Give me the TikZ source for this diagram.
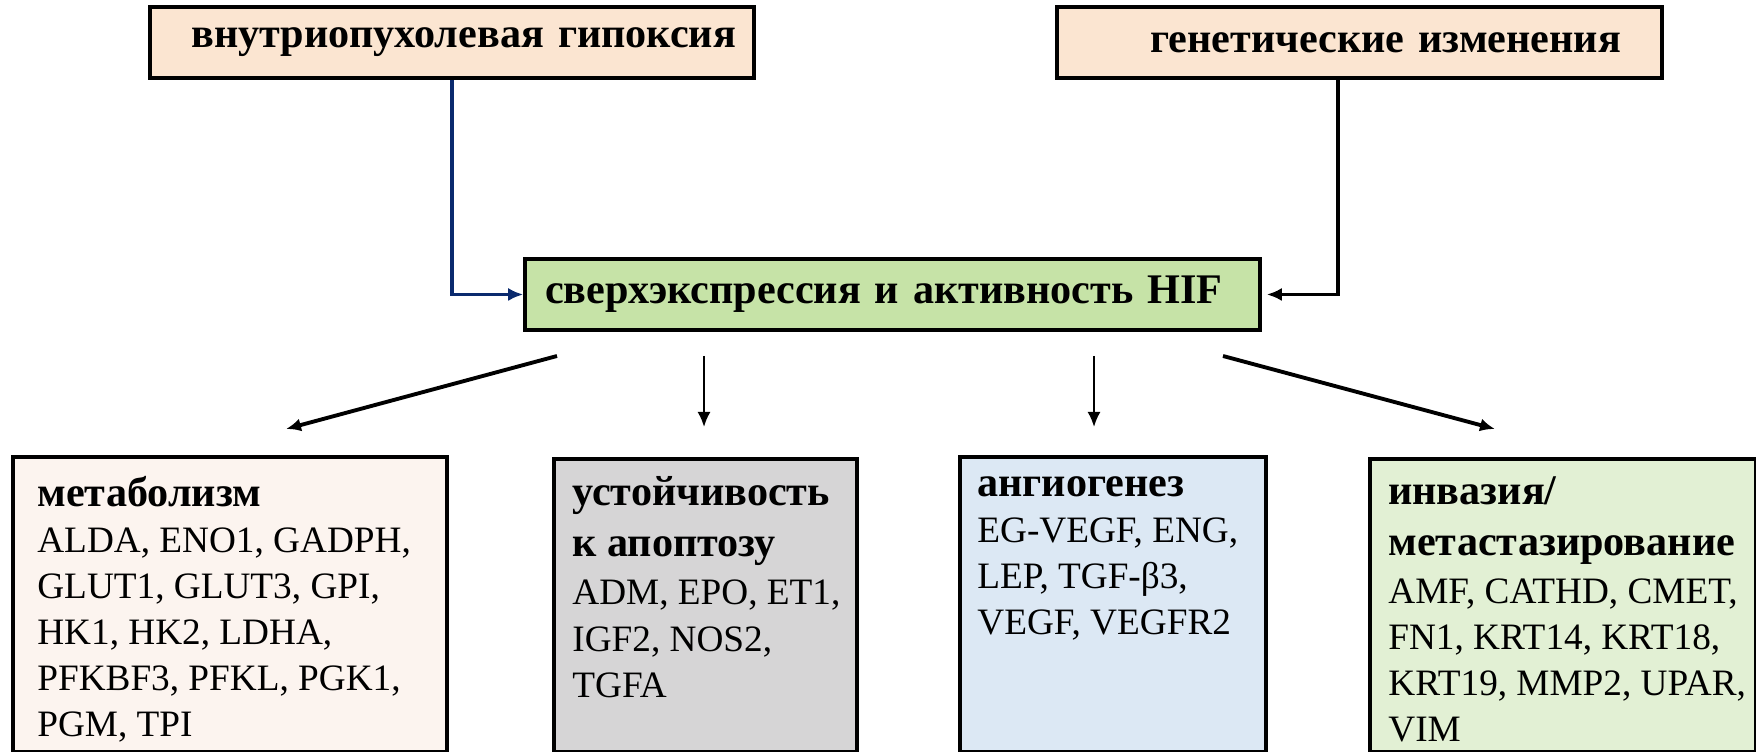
\documentclass[tikz,border=0pt]{standalone}
\usepackage{fontspec}
\setmainfont{Liberation Serif}
\usetikzlibrary{arrows.meta}

\definecolor{peach}{HTML}{FBE5D1}
\definecolor{hifgreen}{HTML}{C6E3A7}
\definecolor{metabpink}{HTML}{FCF4EF}
\definecolor{apopgray}{HTML}{D6D5D6}
\definecolor{angioblue}{HTML}{DCE8F4}
\definecolor{invgreen}{HTML}{E2F0D4}
\definecolor{navy}{HTML}{0A2A6E}

\newcommand\cattitle[1]{{\fontsize{24}{26.2}\selectfont\bfseries #1}}

\tikzstyle{headbox}=[draw, line width=2pt, minimum height=1.42cm,
                     font=\fontsize{24}{28}\selectfont\bfseries]
\tikzstyle{catbox}=[draw, line width=2pt, anchor=north west]
\tikzstyle{cattext}=[anchor=north west, inner sep=0pt, align=left,
                     font=\fontsize{21.2}{26.2}\selectfont]
\tikzstyle{link}=[-{Latex[length=3mm,width=2.6mm]}, line width=1.8pt]

\begin{document}
\begin{tikzpicture}
  \useasboundingbox (0,0) rectangle (35.12,15.04);

  \node[headbox, fill=peach, text width=11.36cm, inner xsep=0.36cm, align=right]
    (hypox) at (9.04,14.19) {внутриопухолевая гипоксия};
  \node[headbox, fill=peach, text width=10.46cm, inner xsep=0.82cm, align=right]
    (genet) at (27.19,14.19) {генетические изменения};
  \node[headbox, fill=hifgreen, text width=13.9cm, inner xsep=0.4cm, align=left]
    (hif) at (17.85,9.15) {сверхэкспрессия и активность HIF};

  \draw[link, navy] (hypox.south -| 9.04,0) |- (hif.west);
  \coordinate (genin) at ([xshift=0.1cm]hif.east);
  \draw[link] (genet.south -| 26.76,0) |- (genin);

  \node[catbox, fill=metabpink, minimum width=8.68cm, minimum height=5.9cm]
    (metab) at (0.22,5.94) {};
  \node[catbox, fill=apopgray, minimum width=6.06cm, minimum height=5.86cm]
    (apop) at (11.04,5.9) {};
  \node[catbox, fill=angioblue, minimum width=6.12cm, minimum height=5.9cm]
    (angio) at (19.16,5.94) {};
  \node[catbox, fill=invgreen, minimum width=7.72cm, minimum height=5.86cm]
    (inv) at (27.36,5.9) {};

  \node[cattext] (metabtxt) at ([xshift=0.52cm,yshift=-0.42cm]metab.north west)
    {\cattitle{метаболизм}\\ALDA, ENO1, GADPH,\\GLUT1, GLUT3, GPI,\\HK1, HK2, LDHA,\\PFKBF3, PFKL, PGK1,\\PGM, TPI};
  \node[cattext] (apoptxt) at ([xshift=0.4cm,yshift=-0.38cm]apop.north west)
    {\cattitle{устойчивость}\\[0.1cm]\cattitle{к апоптозу}\\[0.05cm]ADM, EPO, ET1,\\IGF2, NOS2,\\TGFA};
  \node[cattext] (angiotxt) at ([xshift=0.38cm,yshift=-0.42cm]angio.north west)
    {\cattitle{ангиогенез}\\EG-VEGF, ENG,\\LEP, TGF-β3,\\VEGF, VEGFR2};
  \node[cattext] (invtxt) at ([xshift=0.4cm,yshift=-0.38cm]inv.north west)
    {\cattitle{инвазия/}\\[0.1cm]\cattitle{метастазирование}\\[0.05cm]AMF, CATHD, CMET,\\FN1, KRT14, KRT18,\\KRT19, MMP2, UPAR,\\VIM};

  \coordinate (out1) at (11.14,7.92);
  \coordinate (out2) at (14.08,7.92);
  \coordinate (out3) at (21.88,7.92);
  \coordinate (out4) at (24.46,7.92);
  \coordinate (in1) at (5.72,6.46);
  \coordinate (in2) at (14.08,6.5);
  \coordinate (in3) at (21.88,6.5);
  \coordinate (in4) at (29.9,6.46);

  \draw[link, line width=2.2pt] (out1) -- (in1);
  \draw[link, line width=1.2pt] (out2) -- (in2);
  \draw[link, line width=1.2pt] (out3) -- (in3);
  \draw[link, line width=2.2pt] (out4) -- (in4);
\end{tikzpicture}
\end{document}
